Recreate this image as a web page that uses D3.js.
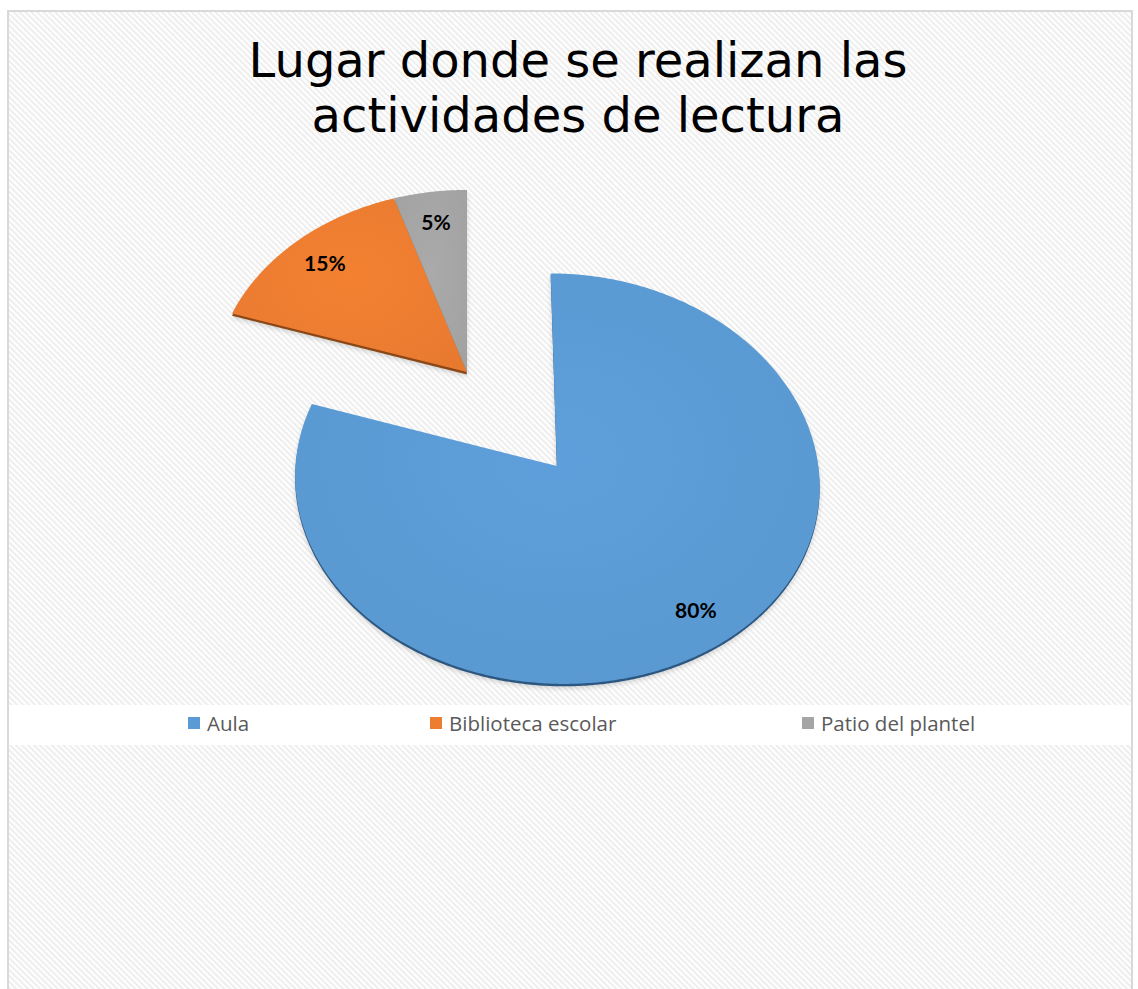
<!DOCTYPE html>
<html>
<head>
<meta charset="utf-8">
<script src="https://cdn.jsdelivr.net/npm/d3@7"></script>
<style>
  html, body { margin: 0; padding: 0; background: #ffffff; }
  svg { display: block; }
</style>
</head>
<body>
<script>
// Data
const categories = ["Aula", "Biblioteca escolar", "Patio del plantel"];
const values = [80, 15, 5];
const valueLabels = ["80%", "15%", "5%"];
const titleLines = ["Lugar donde se realizan las", "actividades de lectura"];
const explode = [0.585, 0, 0];          // fraction of radius each slice is pulled out
const colors = ["#5B9BD5", "#ED7D31", "#A5A5A5"];
const sideColors = ["#2C5780", "#8C4716", "#6E6E6E"];

const W = 1138, H = 989;
const svg = d3.select("body").append("svg").attr("width", W).attr("height", H);
const defs = svg.append("defs");

// Diagonal hatch background
const pat = defs.append("pattern")
  .attr("id", "hatch").attr("patternUnits", "userSpaceOnUse")
  .attr("width", 4.2).attr("height", 4.2)
  .attr("patternTransform", "rotate(-45)");
pat.append("rect").attr("width", 4.2).attr("height", 4.2).attr("fill", "#ffffff");
pat.append("rect").attr("width", 2.1).attr("height", 4.2).attr("fill", "#eeeeee");

// Soft shadow below the disc
const shadow = defs.append("filter").attr("id", "soft")
  .attr("x", "-10%").attr("y", "-10%").attr("width", "120%").attr("height", "130%");
shadow.append("feGaussianBlur").attr("stdDeviation", 2.5);

// Slight shading on the slice tops
colors.forEach((c, i) => {
  const g = defs.append("radialGradient").attr("id", "shade" + i)
    .attr("cx", "50%").attr("cy", "45%").attr("r", "65%");
  g.append("stop").attr("offset", "0%").attr("stop-color", d3.color(c).brighter(0.08));
  g.append("stop").attr("offset", "100%").attr("stop-color", d3.color(c).darker(0.06));
});

// Chart area
svg.append("rect")
  .attr("x", 8).attr("y", 11).attr("width", 1124).attr("height", 1000)
  .attr("fill", "url(#hatch)").attr("stroke", "#d9d9d9").attr("stroke-width", 2);

// Title
const title = svg.append("text")
  .attr("text-anchor", "middle")
  .attr("font-family", "'DejaVu Sans', Verdana, sans-serif")
  .attr("font-size", 48).attr("fill", "#000000");
titleLines.forEach((t, i) => {
  title.append("tspan").attr("x", 578).attr("y", 77 + i * 55).text(t);
});

// Tilted-disc projection (perspective view of a unit disc)
const P = { x: 467, y: 372, a: 252.5, b: 193, kx: 0.072, ky: 0.06 };
function project(u, v) {
  return [P.x + P.a * u / (1 + P.kx * v), P.y - P.b * v / (1 + P.ky * v)];
}

const pie = d3.pie().sort(null).value(d => d);
const arcs = pie(values);
const line = d3.line().curve(d3.curveLinear);

function slicePoints(d, i) {
  const mid = (d.startAngle + d.endAngle) / 2;
  const ou = explode[i] * Math.sin(mid), ov = explode[i] * Math.cos(mid);
  const pts = [project(ou, ov)];
  const n = Math.max(8, Math.ceil((d.endAngle - d.startAngle) / 0.01));
  for (let j = 0; j <= n; j++) {
    const t = d.startAngle + (d.endAngle - d.startAngle) * j / n;
    pts.push(project(ou + Math.sin(t), ov + Math.cos(t)));
  }
  return pts;
}

const depth = 2.4;
const pieG = svg.append("g");

// shadow
pieG.selectAll("path.shadow").data(arcs).join("path")
  .attr("class", "shadow")
  .attr("d", (d, i) => line(slicePoints(d, i)) + "Z")
  .attr("transform", `translate(0,${depth + 2})`)
  .attr("fill", "#000").attr("opacity", 0.16)
  .attr("filter", "url(#soft)");

// side walls
pieG.selectAll("path.side").data(arcs).join("path")
  .attr("class", "side")
  .attr("d", (d, i) => line(slicePoints(d, i)) + "Z")
  .attr("transform", `translate(0,${depth})`)
  .attr("fill", (d, i) => sideColors[i]);

// tops
pieG.selectAll("path.top").data(arcs).join("path")
  .attr("class", "top")
  .attr("d", (d, i) => line(slicePoints(d, i)) + "Z")
  .attr("fill", (d, i) => `url(#shade${i})`);

// Data labels
pieG.selectAll("text.lbl").data(arcs).join("text")
  .attr("class", "lbl")
  .attr("text-anchor", "middle").attr("dominant-baseline", "central")
  .attr("font-family", "Lato, 'Open Sans', sans-serif")
  .attr("font-weight", "bold").attr("font-size", 21).attr("fill", "#000")
  .attr("transform", (d, i) => {
    const mid = (d.startAngle + d.endAngle) / 2;
    const r = 0.83 + explode[i];
    const p = project(r * Math.sin(mid), r * Math.cos(mid));
    return `translate(${p[0]},${p[1]})`;
  })
  .text((d, i) => valueLabels[i]);

// Legend
svg.append("rect").attr("x", 9).attr("y", 705).attr("width", 1122).attr("height", 40)
  .attr("fill", "#ffffff");
const legendX = [188, 430, 802];
const leg = svg.append("g").selectAll("g").data(categories).join("g")
  .attr("transform", (d, i) => `translate(${legendX[i]},717)`);
leg.append("rect").attr("width", 12).attr("height", 12)
  .attr("fill", (d, i) => colors[i]);
leg.append("text").attr("x", 19).attr("y", 13.5)
  .attr("font-family", "'Open Sans', Lato, sans-serif")
  .attr("font-size", 20.5).attr("fill", "#595959")
  .text(d => d);
</script>
</body>
</html>
